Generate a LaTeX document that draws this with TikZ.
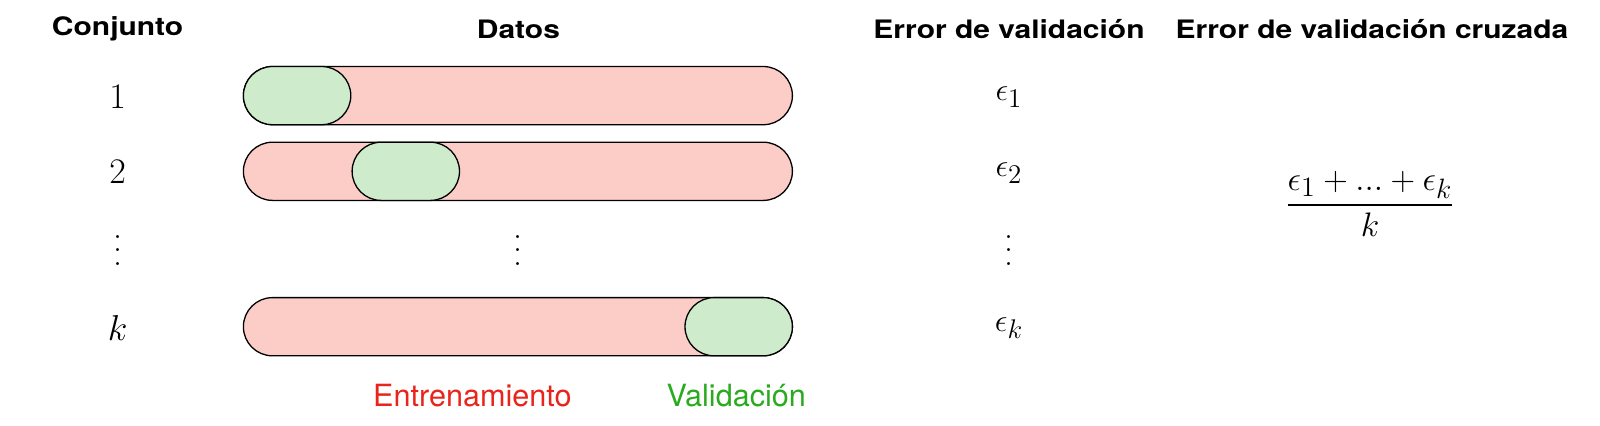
\RequirePackage{fix-cm}
\documentclass[tikz,border=0pt]{standalone}
\usepackage{fontspec}
\setsansfont{TeX Gyre Heros}
\newfontfamily\headfont[FakeStretch=1.18]{TeX Gyre Heros}
\usepackage{amsmath}
\usepackage{tikz}
\usetikzlibrary{positioning}

\DeclareMathSizes{16}{16}{13.5}{10.5}
\DeclareMathSizes{17}{17}{14}{11}

\definecolor{trainfill}{RGB}{252,204,199}
\definecolor{valfill}{RGB}{206,235,203}
\definecolor{trainred}{RGB}{232,36,28}
\definecolor{valgreen}{RGB}{42,170,30}

% three dots, spaced wider than \vdots
\newcommand{\rowdots}{\vbox{\baselineskip=6.6pt\lineskiplimit=0pt\hbox{.}\hbox{.}\hbox{.}}}

\tikzset{
  head/.style={font=\headfont\bfseries\fontsize{12.7}{15}\selectfont},
  setlbl/.style={font=\fontsize{18}{21}\selectfont},
  errlbl/.style={font=\fontsize{16}{19}\selectfont},
  dotlbl/.style={font=\fontsize{18}{21}\selectfont, inner sep=0pt},
  databar/.style={draw, line width=0.65pt, fill=trainfill, rounded corners=14.55pt,
    minimum width=274.5pt, minimum height=29.1pt, inner sep=0pt},
  valbox/.style={draw, line width=0.65pt, fill=valfill, rounded corners=14.55pt,
    minimum width=53.7pt, minimum height=29.1pt, inner sep=0pt},
  legend/.style={font=\sffamily\fontsize{15.3}{18}\selectfont}
}

\begin{document}
\begin{tikzpicture}[x=0.5pt, y=-0.5pt]
\useasboundingbox (0,0) rectangle (1600,425);

% column headers
\node[head] (hset) at (117.6,29) {Conjunto};
\node[head] (hdata) at (518.4,29) {Datos};
\node[head] (herr) at (1009,29) {Error de validación};
\node[head] (hcv) at (1372,29) {Error de validación cruzada};

% row numbers
\node[setlbl] (set1) at (117.6,97) {$1$};
\node[setlbl] (set2) at (117.6,172) {$2$};
\node[dotlbl] (setdots) at (117.6,250.5) {\rowdots};
\node[setlbl] (setk) at (117.6,328) {$k$};

% data bars with the validation fold
\node[databar] (bar1) at (517.9,95.6) {};
\node[databar] (bar2) at (517.9,171.3) {};
\node[dotlbl] (bardots) at (518.4,250.5) {\rowdots};
\node[databar] (bark) at (517.9,326.7) {};

\node[valbox, anchor=west] (val1) at (bar1.west) {};
\node[valbox, anchor=west] (val2) at (val1.east |- bar2.west) {};
\node[valbox, anchor=east] (valk) at (bark.east) {};

% validation errors
\node[errlbl] (err1) at (1009,97) {$\epsilon_1$};
\node[errlbl] (err2) at (1009,173) {$\epsilon_2$};
\node[dotlbl] (errdots) at (1009,250.5) {\rowdots};
\node[errlbl] (errk) at (1009,328) {$\epsilon_k$};

% cross validation error
\node[font=\fontsize{17}{20}\selectfont] (cverr) at (1370,204)
  {$\dfrac{\epsilon_1+...+\epsilon_k}{k}$};

% legend
\node[legend, text=trainred] (ltrain) at (472.4,395.7) {Entrenamiento};
\node[legend, text=valgreen] (lval) at (736.2,395.7) {Validación};

\end{tikzpicture}
\end{document}
